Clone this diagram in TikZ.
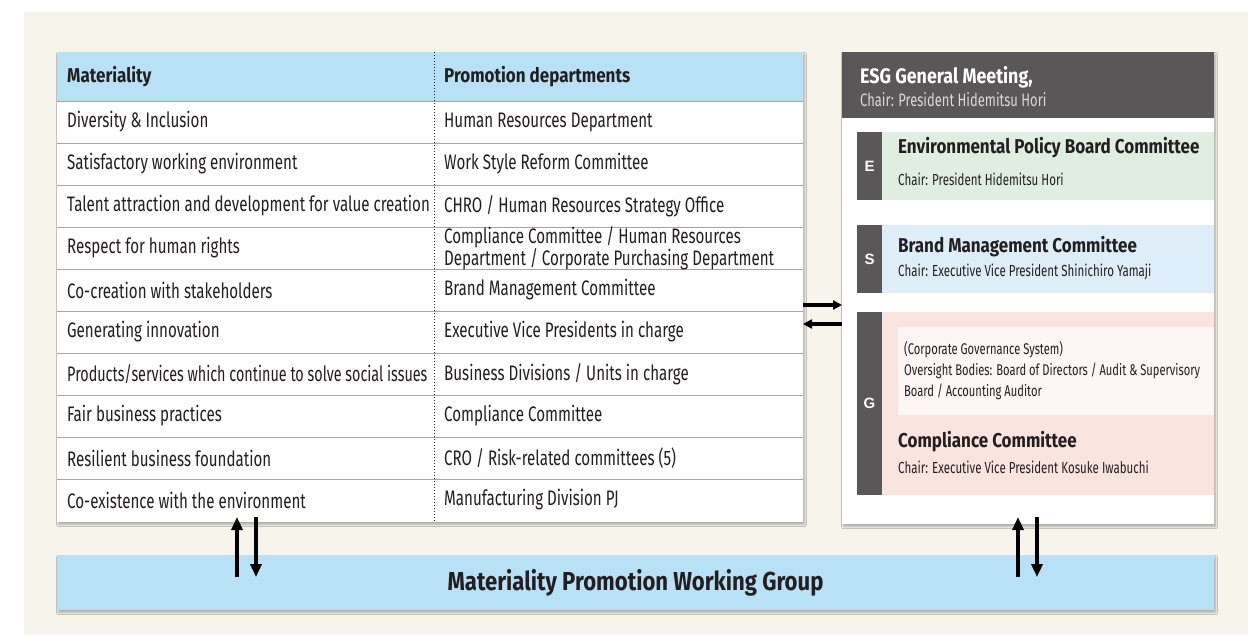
\documentclass[tikz,border=0pt]{standalone}
\usepackage{fontspec}
\setmainfont{Fira Sans}[FakeStretch=0.72,BoldFeatures={FakeStretch=0.85}]
\newfontfamily\letterfont{Liberation Sans}
\usetikzlibrary{arrows.meta,shadows.blur}
\definecolor{paper}{HTML}{F7F4EC}
\definecolor{skyblue}{HTML}{B9E1F6}
\definecolor{darkgrey}{HTML}{595758}
\definecolor{envgreen}{HTML}{E0EEE1}
\definecolor{socblue}{HTML}{DDEEF9}
\definecolor{govpink}{HTML}{FBE3DE}
\definecolor{govlight}{HTML}{FDF6F5}
\definecolor{rowline}{HTML}{A5A5A5}
\definecolor{ink}{HTML}{231F20}
\definecolor{softgrey}{HTML}{D9D9D9}
\tikzset{
  box/.style={anchor=north west,inner sep=0pt,outer sep=0pt,
    blur shadow={shadow xshift=1.5pt,shadow yshift=-2.5pt,shadow blur steps=6,shadow opacity=30}},
  plate/.style={anchor=north west,inner sep=0pt,outer sep=0pt},
  cell/.style={anchor=west,inner sep=0pt,text=ink,font=\fontsize{21}{16}\selectfont},
  headcell/.style={cell,font=\bfseries\fontsize{20}{22}\selectfont},
  title/.style={anchor=west,inner sep=0pt,text=ink,font=\bfseries\fontsize{20}{22}\selectfont},
  chair/.style={anchor=west,inner sep=0pt,text=ink,font=\fontsize{16}{21}\selectfont,align=left},
  strip/.style={plate,fill=darkgrey,minimum width=25pt,text=white,font=\letterfont\bfseries\fontsize{15}{16}\selectfont},
  flow/.style={line width=4.3pt,-{Triangle[length=13pt,width=11pt]}},
  sideflow/.style={line width=3.3pt,-{Triangle[length=9pt,width=9pt]}}
}
\begin{document}
\begin{tikzpicture}[x=1pt,y=-1pt]
\useasboundingbox (0,0) rectangle (1258,635);
\fill[white] (0,0) rectangle (1258,635);
\fill[paper] (24,12) rectangle (1248,635);

\node[box,fill=white,minimum width=746pt,minimum height=470pt] (tbl) at (57,52) {};
\node[plate,fill=skyblue,minimum width=746pt,minimum height=49pt] (hdr) at (57,52) {};
\draw[rowline,line width=0.8pt] (57,101)--(803,101);
\foreach \k in {1,...,9}
  \draw[rowline,line width=0.8pt] (57,101+42*\k)--(803,101+42*\k);
\draw[ink,line width=1pt,dotted] (434,52)--(434,522);

\node[headcell] (hm) at (67,77) {Materiality};
\node[headcell] (hd) at (444,77) {Promotion departments};

\node[cell] (m1) at (67,122) {Diversity \& Inclusion};
\node[cell] (m2) at (67,164) {Satisfactory working environment};
\node[cell] (m3) at (67,206) {Talent attraction and development for value creation};
\node[cell] (m4) at (67,248) {Respect for human rights};
\node[cell] (m5) at (67,290) {Co-creation with stakeholders};
\node[cell] (m6) at (67,332) {Generating innovation};
\node[cell] (m7) at (67,374) {\scalebox{0.95}[1]{Products/services which continue to solve social issues}};
\node[cell] (m8) at (67,416) {Fair business practices};
\node[cell] (m9) at (67,458) {Resilient business foundation};
\node[cell] (m10) at (67,500) {Co-existence with the environment};

\node[cell] (d1) at (444,122) {Human Resources Department};
\node[cell] (d2) at (444,164) {Work Style Reform Committee};
\node[cell] (d3) at (444,206) {CHRO / Human Resources Strategy Office};
\node[cell,align=left] (d4) at (444,248) {Compliance Committee / Human Resources\\Department / Corporate Purchasing Department};
\node[cell] (d5) at (444,290) {Brand Management Committee};
\node[cell] (d6) at (444,332) {Executive Vice Presidents in charge};
\node[cell] (d7) at (444,374) {Business Divisions / Units in charge};
\node[cell] (d8) at (444,416) {Compliance Committee};
\node[cell] (d9) at (444,458) {CRO / Risk-related committees (5)};
\node[cell] (d10) at (444,500) {Manufacturing Division PJ};

\node[box,fill=white,minimum width=372pt,minimum height=472pt] (esg) at (842,52) {};
\node[plate,fill=darkgrey,minimum width=372pt,minimum height=66pt] (esghdr) at (842,52) {};
\node[title,text=white,font=\bfseries\fontsize{21}{22}\selectfont] (esgt) at (860,77) {ESG General Meeting,};
\node[chair,text=softgrey,font=\fontsize{18}{20}\selectfont] (esgc) at (860,100) {Chair: President Hidemitsu Hori};

\node[plate,fill=envgreen,minimum width=357pt,minimum height=68pt] (epan) at (857,132) {};
\node[strip,minimum height=68pt] (estrip) at (857,132) {E};
\node[title] (et) at (898,148) {Environmental Policy Board Committee};
\node[chair] (ec) at (898,179) {Chair: President Hidemitsu Hori};

\node[plate,fill=socblue,minimum width=357pt,minimum height=68pt] (span) at (857,225) {};
\node[strip,minimum height=68pt] (sstrip) at (857,225) {S};
\node[title] (st) at (898,247) {Brand Management Committee};
\node[chair] (sc) at (898,272) {Chair: Executive Vice President Shinichiro Yamaji};

\node[plate,fill=govpink,minimum width=357pt,minimum height=183pt] (gpan) at (857,312) {};
\node[strip,minimum height=183pt] (gstrip) at (857,312) {G};
\node[plate,fill=govlight,minimum width=316pt,minimum height=88pt] (gsys) at (898,327) {};
\node[chair,font=\fontsize{15.5}{21}\selectfont] (gs) at (904,371) { (Corporate Governance System)\\Oversight Bodies: Board of Directors / Audit \& Supervisory\\Board / Accounting Auditor};
\node[title] (gt) at (898,442) {Compliance Committee};
\node[chair] (gc) at (898,467) {Chair: Executive Vice President Kosuke Iwabuchi};

\node[box,fill=skyblue,minimum width=1157pt,minimum height=55pt,text=ink,font=\bfseries\fontsize{26}{28}\selectfont] (wg) at (57,555) {Materiality Promotion Working Group};

\coordinate (ra) at (0,305);
\coordinate (la) at (0,324);
\draw[sideflow] (tbl.east |- ra) -- (esg.west |- ra);
\draw[sideflow] (esg.west |- la) -- (tbl.east |- la);

\coordinate (upl) at (237,577);
\coordinate (dnl) at (256,517);
\coordinate (upr) at (1018,577);
\coordinate (dnr) at (1037,517);
\draw[flow,shorten >=-5pt] (upl) -- (upl |- tbl.south);
\draw[flow] (dnl) -- (dnl |- upl);
\draw[flow,shorten >=-7pt] (upr) -- (upr |- esg.south);
\draw[flow] (dnr) -- (dnr |- upr);
\end{tikzpicture}
\end{document}
